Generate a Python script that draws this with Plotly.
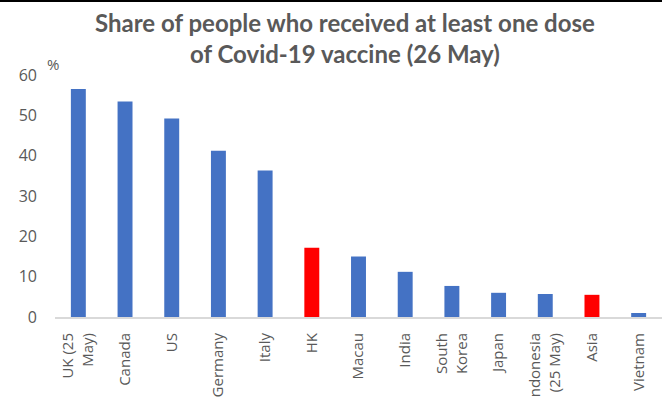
import plotly.graph_objects as go

categories = ["UK (25<br>May)", "Canada", "US", "Germany", "Italy", "HK", "Macau",
              "India", "South<br>Korea", "Japan", "Indonesia<br>(25 May)", "Asia", "Vietnam"]
values = [56.5, 53.4, 49.2, 41.2, 36.3, 17.2, 15.0, 11.2, 7.7, 6.0, 5.7, 5.5, 1.0]
highlight = ["HK", "Asia"]
y_ticks = [0, 10, 20, 30, 40, 50, 60]
title_text = "Share of people who received at least one dose<br>of Covid-19 vaccine (26 May)"

BLUE = "#4472C4"
RED = "#FF0000"
GREY = "#595959"

colors = [RED if c in highlight else BLUE for c in categories]

W, H = 662, 398
ML, MR, MT, MB = 55, 0, 75, 81
ph = H - MT - MB
pw = W - ML - MR

fig = go.Figure(go.Bar(x=categories, y=values, marker=dict(color=colors, line=dict(width=0)),
                       width=0.32))

fig.update_layout(
    width=W, height=H,
    margin=dict(l=ML, r=MR, t=MT, b=MB, autoexpand=False),
    paper_bgcolor="white", plot_bgcolor="white",
    showlegend=False,
    font=dict(family="Open Sans", color=GREY),
)
fig.update_xaxes(
    tickangle=-90, tickfont=dict(family="Open Sans", size=15, color=GREY),
    showline=True, linecolor="#D9D9D9", linewidth=2, ticks="", showgrid=False,
    automargin=False, ticklabelstandoff=8, range=[-0.5, len(categories) - 0.5],
)
fig.update_yaxes(
    range=[0, 60], tickvals=y_ticks, showgrid=False, zeroline=False, showline=False,
    tickfont=dict(family="Open Sans", size=16, color=GREY), automargin=False,
    ticks="", ticklabelstandoff=17,
)
fig.add_annotation(text=title_text, xref="paper", yref="paper",
                   x=(345 - ML) / pw, y=1 + (75 - 38) / ph,
                   showarrow=False, xanchor="center", yanchor="middle",
                   font=dict(family="Lato", size=24, color=GREY, weight="bold"))
fig.add_annotation(text="%", xref="paper", yref="paper", x=-2 / pw, y=1 + 11 / ph,
                   showarrow=False, xanchor="center", yanchor="middle",
                   font=dict(family="Open Sans", size=15, color=GREY))
fig.add_shape(type="line", xref="paper", yref="paper", x0=-ML / pw, x1=1,
              y0=1 + (MT - 1) / ph, y1=1 + (MT - 1) / ph, line=dict(color="black", width=2))

fig.write_html("out.html")
